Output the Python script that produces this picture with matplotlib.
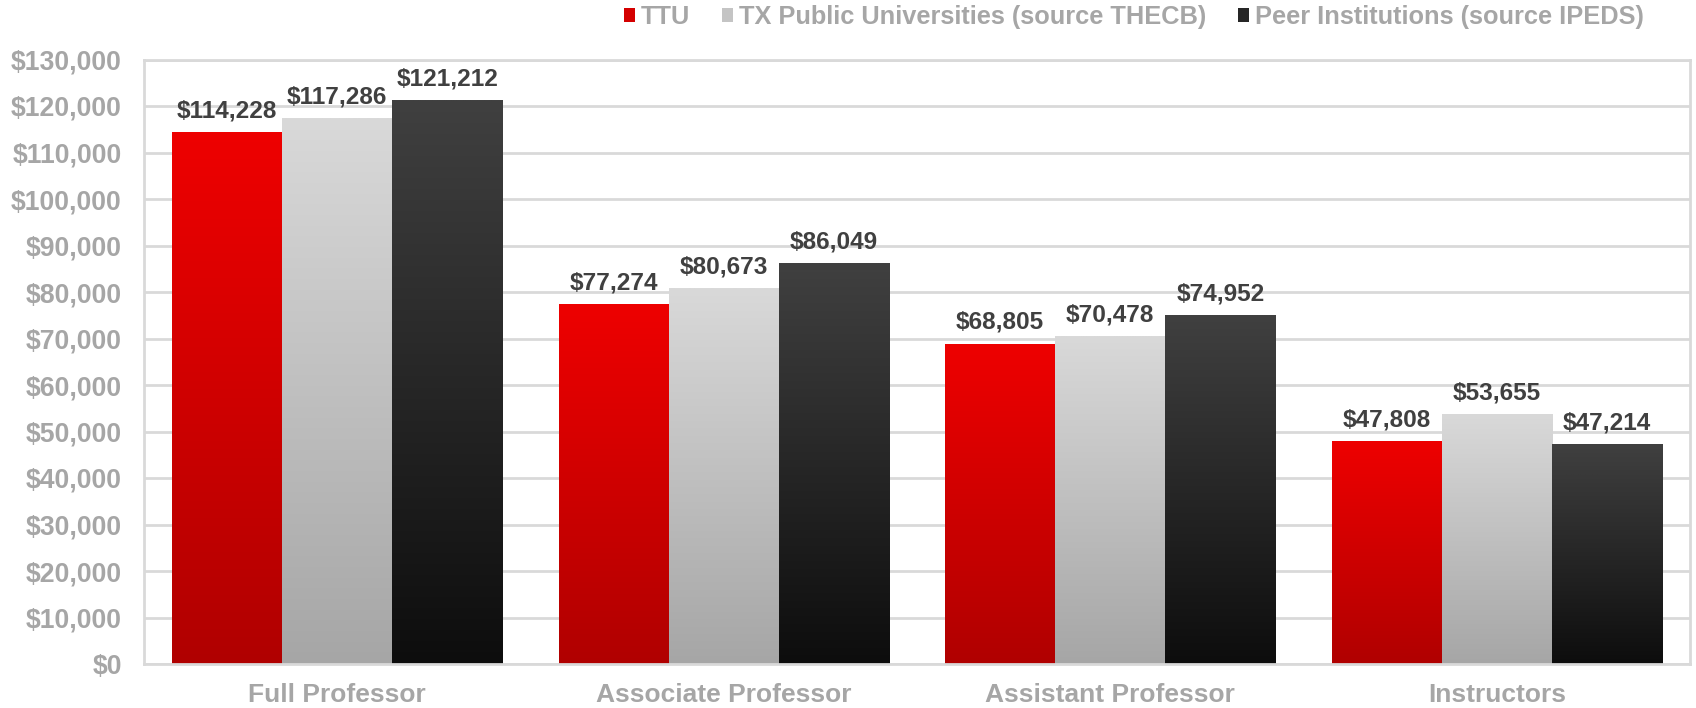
import numpy as np
import matplotlib
matplotlib.use("Agg")
import matplotlib.pyplot as plt
from matplotlib.colors import LinearSegmentedColormap
from matplotlib.patches import Patch
from matplotlib.ticker import FuncFormatter

categories = ["Full Professor", "Associate Professor", "Assistant Professor", "Instructors"]
series_names = ["TTU", "TX Public Universities (source THECB)", "Peer Institutions (source IPEDS)"]
ttu = [114228, 77274, 68805, 47808]
tx_public = [117286, 80673, 70478, 53655]
peers = [121212, 86049, 74952, 47214]

# top / bottom colours of the gradient fill for each series
grad_top = ["#EE0000", "#D9D9D9", "#404040"]
grad_bot = ["#B00000", "#A6A6A6", "#0D0D0D"]

plt.rcParams['font.family'] = ['Liberation Sans', 'DejaVu Sans']
plt.rcParams['font.weight'] = 'bold'

fig = plt.figure(figsize=(16.96, 7.08), dpi=100)
ax = fig.add_axes([144/1696, 44/708, 1546/1696, 604.5/708])

values = [ttu, tx_public, peers]
x = np.arange(len(categories))
bw = 0.285
grad = np.linspace(1, 0, 256).reshape(-1, 1)

for i, vals in enumerate(values):
    cmap = LinearSegmentedColormap.from_list("g%d" % i, [grad_bot[i], grad_top[i]])
    offs = (i - 1) * bw
    bars = ax.bar(x + offs, vals, bw, color="none", edgecolor="none")
    for b, v in zip(bars, vals):
        x0 = b.get_x()
        ax.imshow(grad, cmap=cmap, vmin=0, vmax=1, extent=[x0, x0 + bw, 0, v],
                  aspect="auto", zorder=2, interpolation="bilinear")
        ax.text(x0 + bw / 2, v + 2200, "${:,.0f}".format(v), ha="center", va="bottom",
                fontsize=17.6, fontweight="bold", color="#404040", zorder=3)

ax.set_xlim(-0.5, len(categories) - 0.5)
ax.set_ylim(0, 130000)
ax.set_yticks(np.arange(0, 130001, 10000))
ax.yaxis.set_major_formatter(FuncFormatter(lambda v, p: "${:,.0f}".format(v)))
ax.set_xticks(x)
ax.set_xticklabels(categories)
ax.tick_params(axis="y", length=0, pad=16, labelsize=19.2, labelcolor="#A6A6A6")
ax.tick_params(axis="x", length=0, pad=14, labelsize=19, labelcolor="#A6A6A6")
for t in ax.get_xticklabels() + ax.get_yticklabels():
    t.set_fontweight("bold")

ax.grid(axis="y", color="#D9D9D9", linewidth=2, zorder=0)
ax.set_axisbelow(True)
for s in ax.spines.values():
    s.set_color("#D9D9D9")
    s.set_linewidth(2)

handles = [Patch(facecolor=c, edgecolor="none") for c in ["#D40000", "#C4C4C4", "#262626"]]
leg = fig.legend(handles, series_names, loc="center left", bbox_to_anchor=(624/1696, 1 - 17/708),
                 ncol=3, frameon=False, fontsize=18.3, handlelength=0.42, handleheight=0.42,
                 handletextpad=0.25, columnspacing=1.25, borderaxespad=0, borderpad=0)
for t in leg.get_texts():
    t.set_color("#A6A6A6")
    t.set_fontweight("bold")

fig.savefig("out.png", dpi=100)
